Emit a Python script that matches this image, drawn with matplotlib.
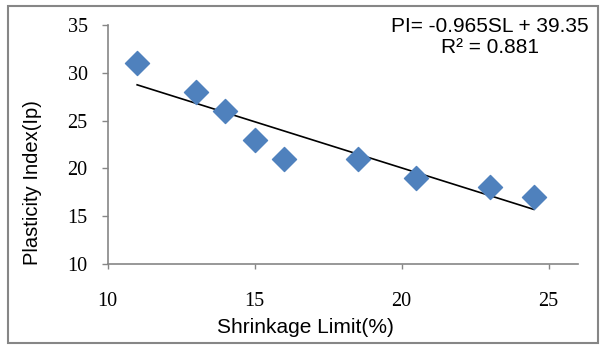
import numpy as np
import matplotlib
matplotlib.use('Agg')
import matplotlib.pyplot as plt
from matplotlib.patches import Rectangle

# data
shrinkage_limit = [11, 13, 14, 15, 16, 18.5, 20.5, 23, 24.5]
plasticity_index = [31, 28, 26, 23, 21, 21, 19, 18, 17]
slope = -0.965
intercept = 39.35
r2 = 0.881
xticks = [10, 15, 20, 25]
yticks = [10, 15, 20, 25, 30, 35]

fig = plt.figure(figsize=(6.02, 3.46), dpi=100)
ax = fig.add_axes([0.179, 0.237, 0.781, 0.691])

ax.scatter(shrinkage_limit, plasticity_index, marker='D', s=150,
           color='#4F81BD', edgecolor='#4F81BD', zorder=3)

# linear trendline
xt = np.array([min(shrinkage_limit), max(shrinkage_limit)])
ax.plot(xt, slope * xt + intercept, color='black', lw=1.2, zorder=2)

ax.set_xlim(10, 26)
ax.set_ylim(10, 35)
ax.set_xticks(xticks)
ax.set_yticks(yticks)

serif = 'Liberation Serif'
sans = 'Liberation Sans'
for lab in ax.get_xticklabels() + ax.get_yticklabels():
    lab.set_fontfamily(serif)
    lab.set_fontsize(14.5)

ax.tick_params(axis='x', direction='out', length=3.5, width=1, color='#868686', pad=17)
ax.tick_params(axis='y', direction='out', length=4.5, width=1, color='#868686', pad=10)

for s in ['top', 'right']:
    ax.spines[s].set_visible(False)
for s in ['left', 'bottom']:
    ax.spines[s].set_color('#868686')
    ax.spines[s].set_linewidth(1.2)

ax.set_xlabel('Shrinkage Limit(%)', fontfamily=sans, fontsize=15, labelpad=5)
ax.set_ylabel('Plasticity Index(Ip)', fontfamily=sans, fontsize=14.5, labelpad=18)
# labels sit off-centre in the original
ax.xaxis.label.set_x(0.42)
ax.yaxis.label.set_y(0.34)

fig.text(0.814, 0.952, 'PI= %.3fSL + %.2f\nR² = %.3f' % (slope, intercept, r2),
         ha='center', va='top', fontfamily=sans, fontsize=15, linespacing=1.15)

# outer chart border
fig.patches.append(Rectangle((0.013, 0.009), 0.980, 0.974, transform=fig.transFigure,
                             fill=False, edgecolor='#868686', lw=1.5))

fig.savefig('out.png', dpi=100)
